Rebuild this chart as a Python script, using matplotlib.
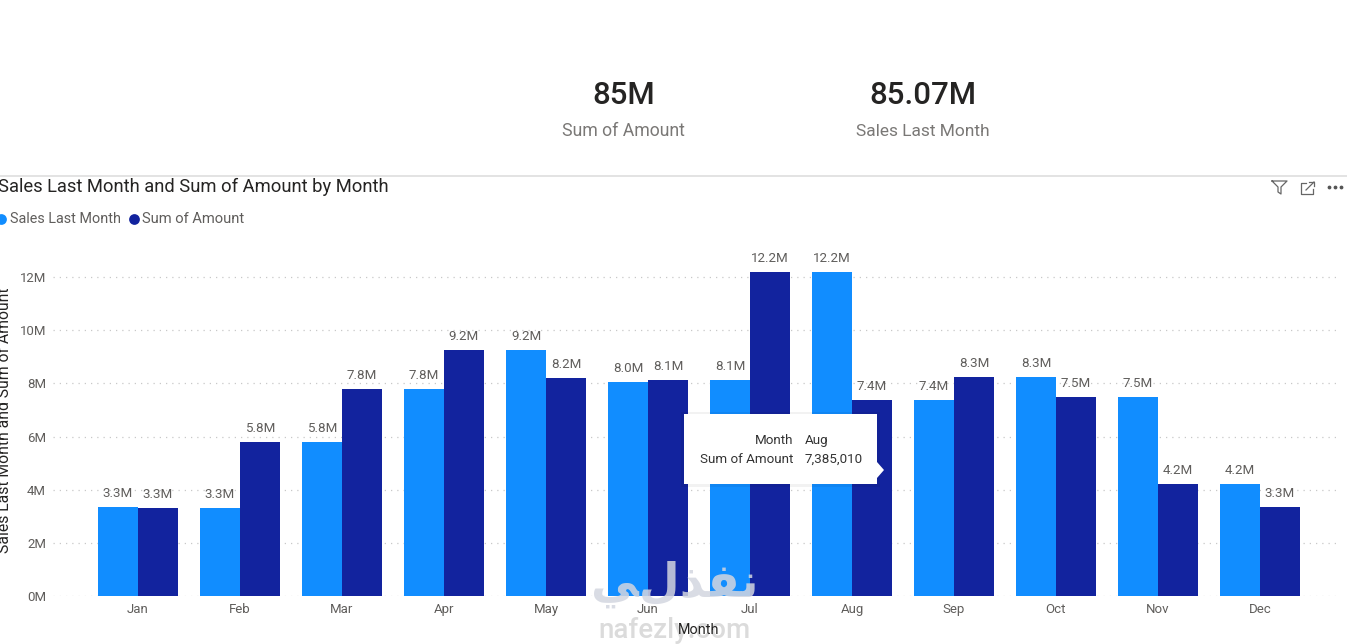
import matplotlib
matplotlib.use('Agg')
import numpy as np
import matplotlib.pyplot as plt
from matplotlib.patches import Rectangle, Polygon

plt.rcParams['font.family'] = ['Roboto', 'DejaVu Sans']

months = ['Jan', 'Feb', 'Mar', 'Apr', 'May', 'Jun', 'Jul', 'Aug', 'Sep', 'Oct', 'Nov', 'Dec']
sales_last_month = [3.35, 3.3, 5.8, 7.78, 9.25, 8.05, 8.13, 12.2, 7.38, 8.25, 7.5, 4.2]
sum_of_amount = [3.3, 5.8, 7.78, 9.25, 8.2, 8.13, 12.2, 7.38, 8.25, 7.5, 4.2, 3.35]
labels_last = ['3.3M', '3.3M', '5.8M', '7.8M', '9.2M', '8.0M', '8.1M', '12.2M', '7.4M', '8.3M', '7.5M', '4.2M']
labels_sum = ['3.3M', '5.8M', '7.8M', '9.2M', '8.2M', '8.1M', '12.2M', '7.4M', '8.3M', '7.5M', '4.2M', '3.3M']
y_ticks = [0, 2, 4, 6, 8, 10, 12]
y_tick_labels = ['0M', '2M', '4M', '6M', '8M', '10M', '12M']

W, H = 1347, 644
LIGHT = '#118DFF'
DARK = '#12239E'
GREY = '#605E5C'
fig = plt.figure(figsize=(W / 100, H / 100), dpi=100, facecolor='white')

# chart area, in pixels: 0M sits at y=596, 12M at y=277
left, right, top, bottom = 53, 1338, 240, 596
ax = fig.add_axes([left / W, 1 - bottom / H, (right - left) / W, (bottom - top) / H])
ax.set_xlim((left - 138) / 102, (right - 138) / 102)
ax.set_ylim(0, (bottom - top) / 26.58)

x = np.arange(len(months))
bars1 = ax.bar(x - 0.196, sales_last_month, width=0.392, color=LIGHT, zorder=3)
bars2 = ax.bar(x + 0.196, sum_of_amount, width=0.392, color=DARK, zorder=3)
ax.bar_label(bars1, labels=labels_last, padding=5, fontsize=9.6, color=GREY)
ax.bar_label(bars2, labels=labels_sum, padding=5, fontsize=9.6, color=GREY)

ax.set_xticks(x, months)
ax.set_yticks(y_ticks, y_tick_labels)
ax.tick_params(length=0, labelsize=9.5, labelcolor=GREY)
ax.tick_params(axis='x', pad=5)
ax.tick_params(axis='y', pad=5)
ax.grid(axis='y', color='#C8C8C8', linestyle=(0, (1, 4)), linewidth=0.9, zorder=0)
ax.set_axisbelow(True)
for s in ax.spines.values():
    s.set_visible(False)

# overlay in pixel coordinates for the report furniture
ov = fig.add_axes([0, 0, 1, 1], facecolor='none')
ov.set_xlim(0, W)
ov.set_ylim(H, 0)
ov.axis('off')

# cards
ov.text(623.5, 95, '85M', ha='center', va='center', fontsize=22.5, weight='medium', color='#252423')
ov.text(623.5, 131, 'Sum of Amount', ha='center', va='center', fontsize=12.7, color='#7A7876')
ov.text(922.5, 95, '85.07M', ha='center', va='center', fontsize=22.5, weight='medium', color='#252423')
ov.text(922.5, 131, 'Sales Last Month', ha='center', va='center', fontsize=12.5, color='#7A7876')
ov.plot([0, W], [176, 176], color='#DEDEDE', lw=1.2)

# title and legend
ov.text(-2, 187, 'Sales Last Month and Sum of Amount by Month', ha='left', va='center',
        fontsize=13.2, color='#252423')
ov.scatter([1], [219], s=60, color=LIGHT, linewidths=0)
ov.text(10, 219, 'Sales Last Month', ha='left', va='center', fontsize=10.4, color=GREY)
ov.scatter([134], [219], s=60, color=DARK, linewidths=0)
ov.text(142, 219, 'Sum of Amount', ha='left', va='center', fontsize=10.6, color=GREY)

# axis titles
ov.text(5, 420, 'Sales Last Month and Sum of Amount', rotation=90, ha='center', va='center',
        fontsize=11.3, color='#252423')

# header icons
ov.plot([1272, 1287, 1281, 1281, 1278, 1278, 1272], [181, 181, 187, 194, 192, 187, 181],
        color='#666666', lw=0.9)
ov.plot([1306, 1301, 1301, 1313, 1313], [183, 183, 194, 194, 189], color='#666666', lw=0.9)
ov.plot([1306, 1314], [190, 182], color='#666666', lw=0.9)
ov.plot([1309, 1314, 1314], [182, 182, 186], color='#666666', lw=0.9)
ov.scatter([1329, 1335, 1341], [187, 187, 187], s=3, color='#555555')

# tooltip
ov.add_patch(Rectangle((681, 412), 199, 75, fc='#000000', alpha=0.05, ec='none', zorder=5))
ov.add_patch(Rectangle((684, 414), 193, 70, fc='white', ec='none', zorder=6))
ov.add_patch(Polygon([(877, 462), (884, 470), (877, 478)], fc='white', ec='none', zorder=6))
ov.text(793, 440, 'Month', ha='right', va='center', fontsize=9.6, color='#333333', zorder=7)
ov.text(793, 459, 'Sum of Amount', ha='right', va='center', fontsize=9.6, color='#333333', zorder=7)
ov.text(805, 440, 'Aug', ha='left', va='center', fontsize=9.6, color='#333333', zorder=7)
ov.text(805, 459, '7,385,010', ha='left', va='center', fontsize=9.6, color='#333333', zorder=7)

# watermark
ov.text(675, 584, '\uFEF2\uFEDD\uFEAC\uFED4\uFEE7', ha='center', va='center', fontsize=34,
        family='DejaVu Sans', weight='bold', color='#D3D6E0', alpha=0.85, zorder=8)
ov.text(675, 630, 'nafezly.com', ha='center', va='center', fontsize=20, weight='medium',
        color='#C4C4C4', alpha=0.6, zorder=8)
ov.text(699, 630, 'Month', ha='center', va='center', fontsize=10.4, color='#252423', zorder=9)

fig.savefig('out.png', dpi=100, facecolor='white')
